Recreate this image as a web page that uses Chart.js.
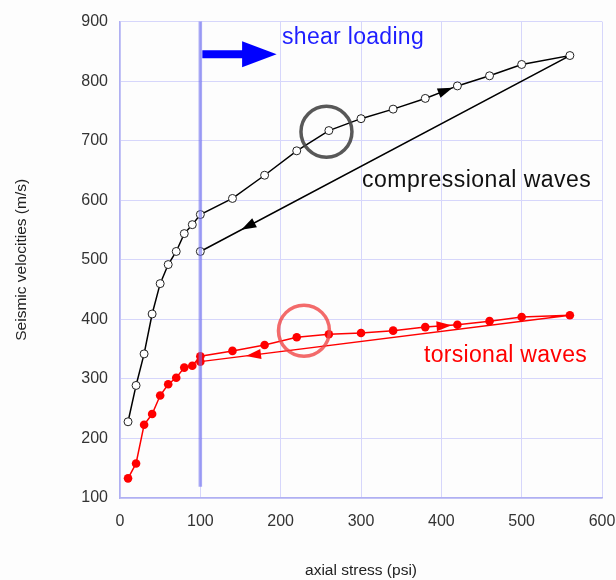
<!DOCTYPE html>
<html>
<head>
<meta charset="utf-8">
<script src="https://cdn.jsdelivr.net/npm/chart.js@4/dist/chart.umd.min.js"></script>
<style>
  html, body { margin: 0; padding: 0; background: #fdfdfd; }
  #wrap { width: 616px; height: 580px; }
</style>
</head>
<body>
<div id="wrap"><canvas id="seismic"></canvas></div>
<script>
// axial stress (psi) while loading, then back down
const loadStress = [10, 20, 30, 40, 50, 60, 70, 80, 90, 100, 140, 180, 220, 260, 300, 340, 380, 420, 460, 500, 560];
const unloadStress = [560, 100];

// compressional (P) velocities, m/s
const pLoad = [228, 289, 342, 409, 460, 492, 514, 544, 559, 576, 603, 642, 683, 717, 737, 753, 771, 792, 809, 828, 843];
const pUnload = [843, 514];

// torsional (S) velocities, m/s
const sLoad = [133, 158, 223, 241, 272, 291, 302, 319, 322, 338, 347, 357, 370, 375, 377, 381, 387, 391, 397, 404, 407];
const sUnload = [407, 329];

const xTicks = [0, 100, 200, 300, 400, 500, 600];
const yTicks = [100, 200, 300, 400, 500, 600, 700, 800, 900];

const shearStart = 100;

const font = "'Liberation Sans', Arial, sans-serif";

function toPoints(xs, ys) {
  return xs.map((x, i) => ({ x: x, y: ys[i] }));
}

const pData = toPoints(loadStress, pLoad).concat(toPoints(unloadStress, pUnload).slice(1));
const sData = toPoints(loadStress, sLoad).concat(toPoints(unloadStress, sUnload).slice(1));

// arrowhead along segment (from point i to i+1), t = fraction
function arrowOnSegment(ctx, chart, dsIndex, i, t, color) {
  const meta = chart.getDatasetMeta(dsIndex);
  const a = meta.data[i], b = meta.data[i + 1];
  const cx = a.x + (b.x - a.x) * t;
  const cy = a.y + (b.y - a.y) * t;
  const ang = Math.atan2(b.y - a.y, b.x - a.x);
  ctx.save();
  ctx.translate(cx, cy);
  ctx.rotate(ang);
  ctx.fillStyle = color;
  ctx.beginPath();
  ctx.moveTo(8, 0);
  ctx.lineTo(-7, -5);
  ctx.lineTo(-7, 5);
  ctx.closePath();
  ctx.fill();
  ctx.restore();
}

function label(ctx, text, x, y, color, spacing) {
  ctx.save();
  ctx.font = '23px ' + font;
  ctx.letterSpacing = spacing + 'px';
  ctx.fillStyle = color;
  ctx.textBaseline = 'alphabetic';
  ctx.textAlign = 'left';
  ctx.fillText(text, x, y);
  ctx.restore();
}

const extras = {
  id: 'extras',
  afterDatasetsDraw(chart) {
    const ctx = chart.ctx;
    const xs = chart.scales.x, ys = chart.scales.y;

    // arrows on the loops
    const n = loadStress.length;
    arrowOnSegment(ctx, chart, 0, 16, 0.62, '#000');
    arrowOnSegment(ctx, chart, 0, n - 1, 0.87, '#000');
    arrowOnSegment(ctx, chart, 1, 16, 0.57, '#f00');
    arrowOnSegment(ctx, chart, 1, n - 1, 0.855, '#f00');

    // highlight circles
    ctx.save();
    ctx.lineWidth = 3.5;
    ctx.strokeStyle = 'rgba(70,70,70,0.9)';
    ctx.beginPath();
    ctx.arc(xs.getPixelForValue(257), ys.getPixelForValue(715), 25.5, 0, Math.PI * 2);
    ctx.stroke();
    ctx.strokeStyle = 'rgba(240,70,70,0.8)';
    ctx.beginPath();
    ctx.arc(xs.getPixelForValue(229), ys.getPixelForValue(381), 25.5, 0, Math.PI * 2);
    ctx.stroke();
    ctx.restore();

    // shear loading marker line
    const lx = xs.getPixelForValue(shearStart);
    ctx.save();
    ctx.strokeStyle = 'rgba(110,110,240,0.6)';
    ctx.lineWidth = 3.5;
    ctx.beginPath();
    ctx.moveTo(lx, ys.getPixelForValue(900));
    ctx.lineTo(lx, ys.getPixelForValue(119));
    ctx.stroke();

    // blue arrow
    const ay = ys.getPixelForValue(845);
    const shaftEnd = xs.getPixelForValue(152);
    const tip = xs.getPixelForValue(195);
    ctx.fillStyle = '#0000ff';
    ctx.beginPath();
    ctx.moveTo(lx + 2, ay - 4);
    ctx.lineTo(shaftEnd, ay - 4);
    ctx.lineTo(shaftEnd, ay - 13);
    ctx.lineTo(tip, ay);
    ctx.lineTo(shaftEnd, ay + 13);
    ctx.lineTo(shaftEnd, ay + 4);
    ctx.lineTo(lx + 2, ay + 4);
    ctx.closePath();
    ctx.fill();
    ctx.restore();

    label(ctx, 'shear loading', 282, 44, '#1e1eff', 0.3);
    label(ctx, 'compressional waves', 362, 187, '#111', 0.5);
    label(ctx, 'torsional waves', 424, 362, '#ff0000', 0.3);
  }
};

new Chart(document.getElementById('seismic'), {
  type: 'scatter',
  data: {
    datasets: [{
      label: 'compressional waves',
      data: pData,
      showLine: true,
      borderColor: '#000',
      borderWidth: 1.5,
      pointRadius: 4,
      pointBackgroundColor: '#fff',
      pointBorderColor: '#222',
      pointBorderWidth: 1
    }, {
      label: 'torsional waves',
      data: sData,
      showLine: true,
      borderColor: '#f00',
      borderWidth: 1.5,
      pointRadius: 4.3,
      pointBackgroundColor: '#f00',
      pointBorderColor: '#f00',
      pointBorderWidth: 0
    }]
  },
  options: {
    responsive: true,
    maintainAspectRatio: false,
    animation: false,
    layout: { padding: { top: 17, right: 14, left: 0, bottom: 0 } },
    plugins: {
      legend: { display: false },
      tooltip: { enabled: false }
    },
    scales: {
      x: {
        type: 'linear',
        min: 0,
        max: 600,
        afterBuildTicks: s => { s.ticks = xTicks.map(v => ({ value: v })); },
        afterFit: s => { s.height = 82; s.paddingLeft = 0; s.paddingRight = 0; },
        grid: { color: '#d6d6fb', drawTicks: false },
        border: { color: '#b0b0f2', width: 1.5 },
        ticks: { color: '#333', padding: 14, font: { family: font, size: 16 } },
        title: {
          display: true,
          text: 'axial stress (psi)',
          color: '#222',
          padding: { top: 0, bottom: 0 },
          font: { family: font, size: 15.5 }
        }
      },
      y: {
        type: 'linear',
        min: 100,
        max: 900,
        afterBuildTicks: s => { s.ticks = yTicks.map(v => ({ value: v })); },
        afterFit: s => { s.width = 120; },
        grid: { color: '#d6d6fb', drawTicks: false },
        border: { color: '#b0b0f2', width: 1.5 },
        ticks: { color: '#333', padding: 12, font: { family: font, size: 16 } },
        title: {
          display: true,
          text: 'Seismic velocities (m/s)',
          color: '#222',
          padding: { top: 12, bottom: 0 },
          font: { family: font, size: 15.5 }
        }
      }
    }
  },
  plugins: [extras]
});
</script>
</body>
</html>
